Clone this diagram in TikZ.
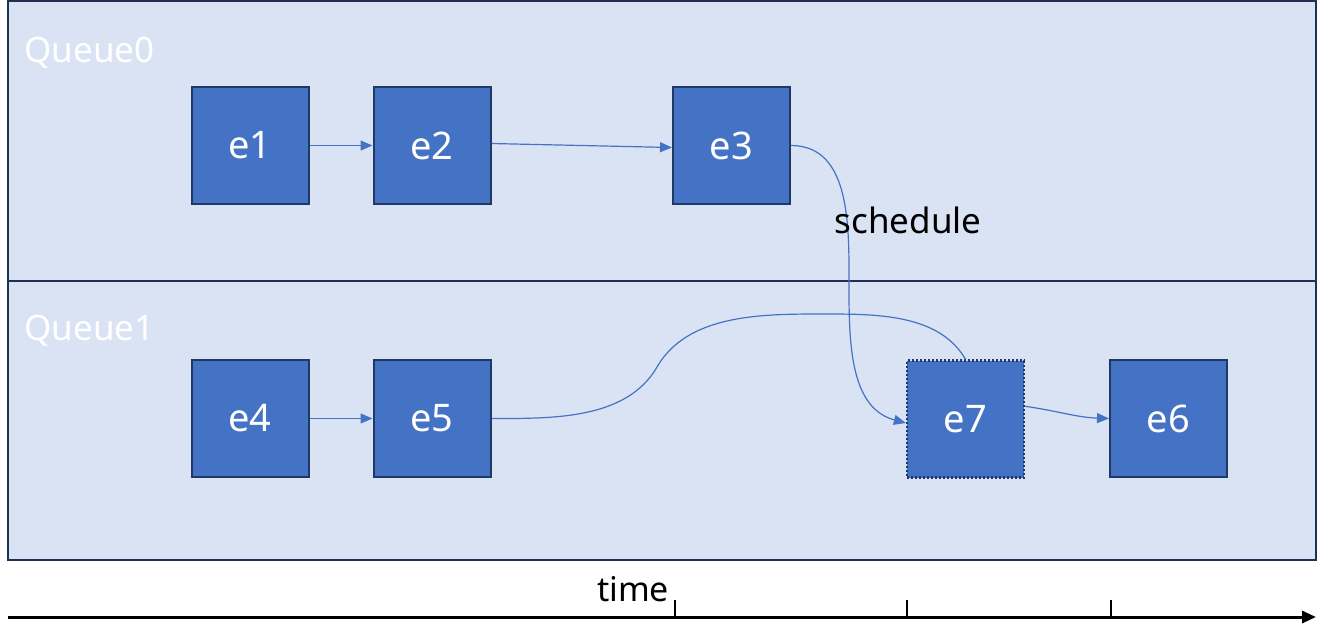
\documentclass[tikz,border=0pt]{standalone}
\usepackage{fontspec}
\setmainfont{Noto Sans}
\usepackage{tikz}
\usetikzlibrary{positioning, calc, arrows.meta}
\definecolor{queuefill}{RGB}{218, 227, 243}
\definecolor{queueline}{RGB}{31, 48, 84}
\definecolor{eventfill}{RGB}{68, 114, 196}
\definecolor{eventline}{RGB}{32, 56, 100}

\tikzset{
    queue/.style={draw=queueline, fill=queuefill, line width=1pt},
    qlabel/.style={text=white, font=\fontsize{17.5}{20}\selectfont, anchor=west, inner sep=0pt},
    event/.style={draw=eventline, fill=eventfill, line width=1pt, minimum size=58.5pt, inner sep=0pt, text=white, font=\fontsize{19}{22}\selectfont},
    flow/.style={draw=eventfill, line width=0.6pt},
    flowarrow/.style={flow, -{Triangle[length=6pt, width=5pt]}}
}

\begin{document}
\begin{tikzpicture}[x=0.5pt, y=-0.5pt]
        \useasboundingbox (0,0) rectangle (1327,634);
        \draw[queue] (8,1) rectangle (1316,281);
        \draw[queue] (8,281) rectangle (1316,560);
        \node[qlabel] (q0) at (24,53) {Queue0};
        \node[qlabel] (q1) at (24,331) {Queue1};

        \node[event] (e1) at (250,145.5) {e1};
        \node[event, right=31.5pt of e1] (e2) {e2};
        \node[event] (e3) at (731.5,145.5) {e3};
        \node[event] (e4) at (250,418.5) {e4};
        \node[event, right=31.5pt of e4] (e5) {e5};
        \node[event, draw=eventline, densely dotted, line width=1.2pt] (e7) at (965.5,419) {e7};
        \node[event] (e6) at (1168.5,418.5) {e6};

        \draw[flowarrow] (e1) -- (e2);
        \draw[flowarrow] ($(e2.east)+(0,-2)$) -- ($(e3.west)+(0,2)$);
        \draw[flowarrow] (e4) -- (e5);
        \draw[flow] (e5.east) to[out=0, in=-120, looseness=0.9] (657,367) to[out=60, in=180, looseness=0.9] (820,314) to[out=0, in=120, looseness=0.9] (e7.north);
        \draw[flowarrow] (e3.east) to[out=0, in=90] (849,290) to[out=-90, in=165] ($(e7.west)+(0,4)$);
        \draw[flowarrow] (e7.12) to[out=-8, in=178] (e6.west);
        \node[font=\fontsize{17.5}{20}\selectfont, inner sep=0pt] (sched) at (908,220) {schedule};

        \coordinate (t0) at (8,617);
        \coordinate (t1) at (1316,617);
        \draw[line width=1.5pt, -{Triangle[length=7pt, width=6pt]}] (t0) -- (t1);
        \foreach \x in {675,907,1111}
            \draw[line width=1pt] (\x,600) -- (\x,617);
        \node[font=\fontsize{17}{20}\selectfont, inner sep=0pt] (time) at (633,589) {time};
    \end{tikzpicture}
\end{document}
